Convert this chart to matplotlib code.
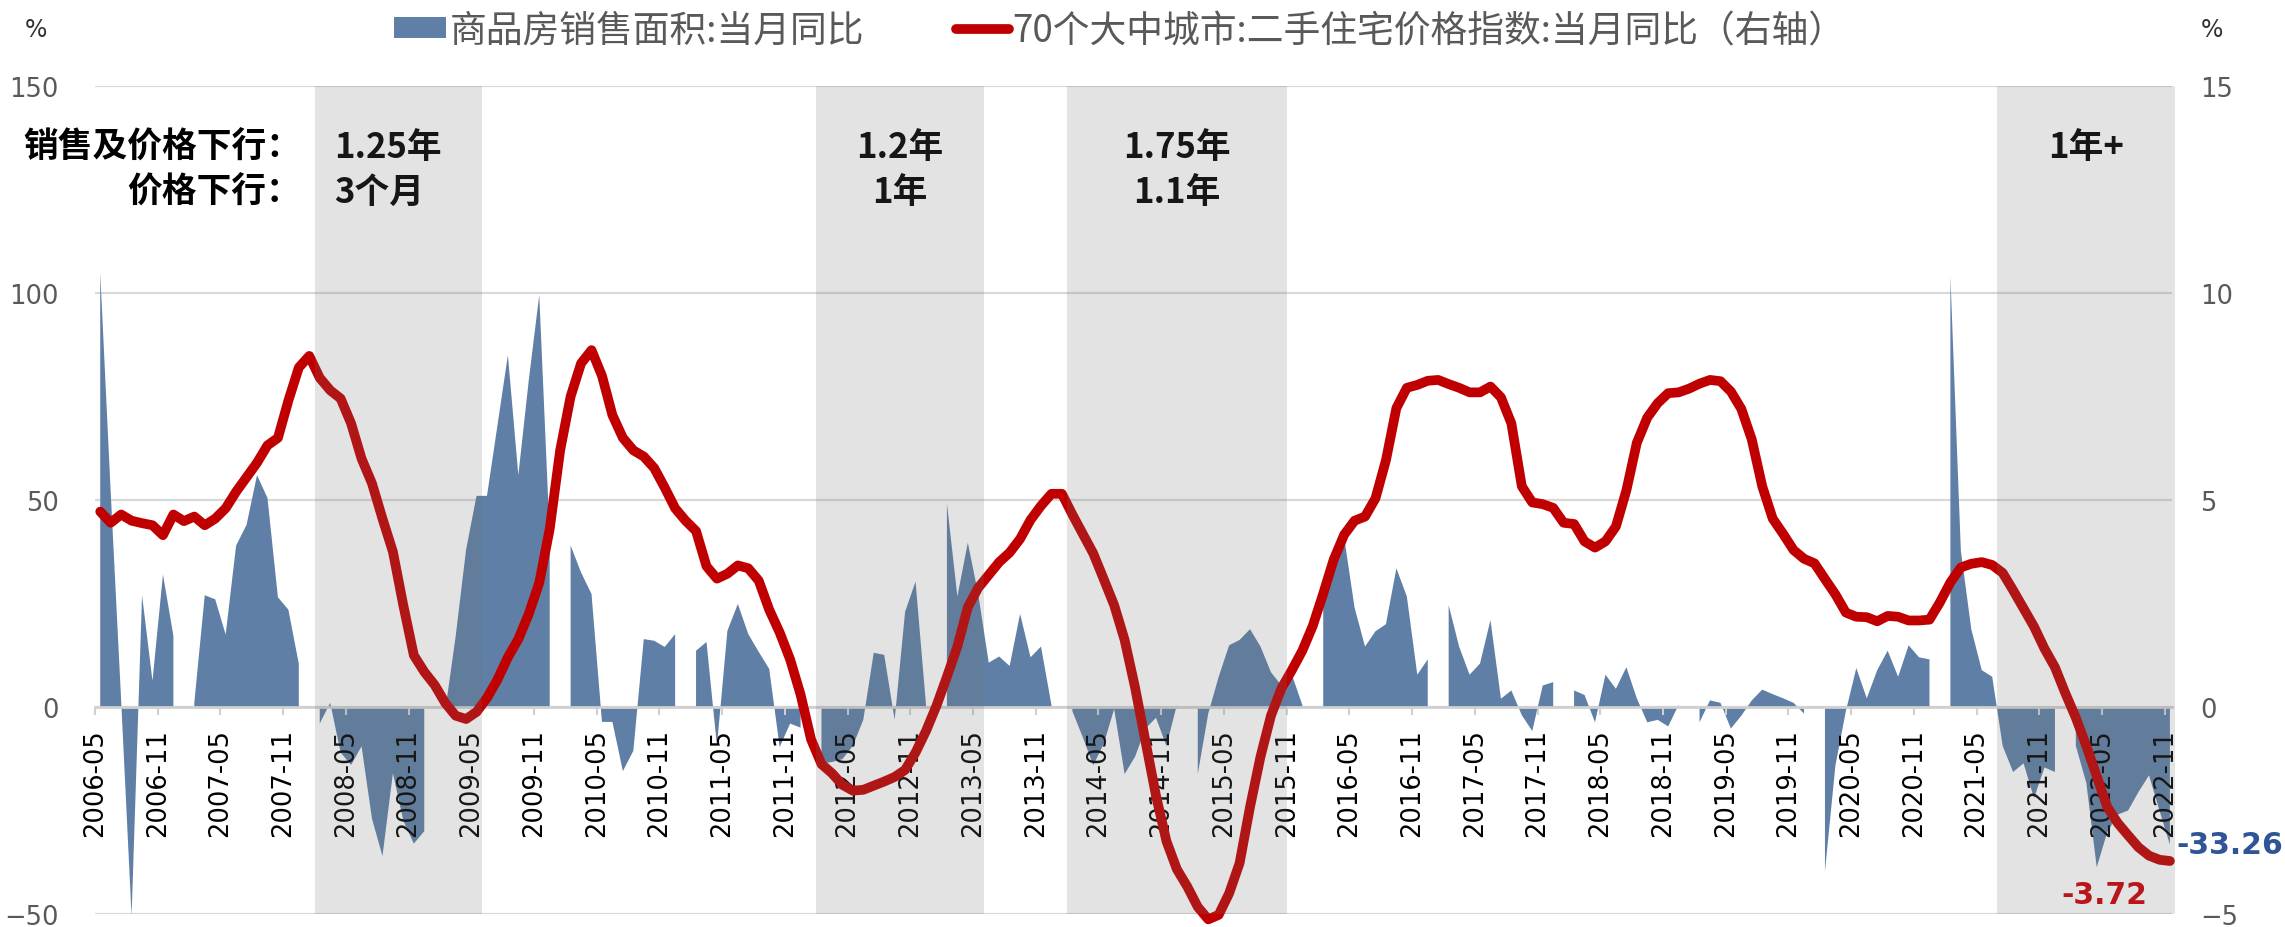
import numpy as np
import pandas as pd
import matplotlib
matplotlib.use("Agg")
import matplotlib.pyplot as plt
from matplotlib.patches import Patch
from matplotlib.lines import Line2D
from matplotlib.font_manager import FontProperties

plt.rcParams['font.family'] = ['DejaVu Sans', 'Noto Sans CJK SC']

# monthly, 2006-05 .. 2022-11 (January values not published -> nan)
months = [p.strftime('%Y-%m') for p in pd.period_range('2006-05', '2022-11', freq='M')]
nan = np.nan

# 商品房销售面积:当月同比 (%)
sales = [105, 52, 1.7, -50.5, 27, 6.3, 32, 17.2, nan, 1,
         27, 26, 17.5, 39, 44, 56, 50.5, 26.5, 23.5, 10.4,
         nan, -4, 1, -11, -14, -9.5, -27, -36, -16, -27.5,
         -33, -30, nan, -1, 17, 38, 51, 51, 68, 85,
         56, 79, 99.5, 41.5, nan, 39, 32.5, 27.3, -3.6, -3.6,
         -15.5, -10.6, 16.4, 16, 14.5, 17.6, nan, 13.6, 15.7, -9.4,
         18.4, 24.9, 17.6, 13.3, 9.2, -9.7, -4, -5, nan, -13.6,
         -13.3, -12.6, -9.4, -3.1, 13.1, 12.6, -3.1, 23, 30.3, 0.5,
         nan, 49.2, 26.7, 39.7, 27.2, 10.7, 12.2, 9.9, 22.5, 12,
         14.6, 0.5, nan, -1, -7.3, -14.1, -8.9, -0.5, -16.2, -12,
         -5.2, -2.6, -9.4, 0.5, nan, -16.2, -1.6, 7.3, 14.9, 16.2,
         18.8, 14.6, 8.4, 5.2, 7.8, 0.5, nan, 24, 33, 41,
         24, 14.6, 18.3, 20, 33.5, 26.7, 7.8, 11.5, nan, 24.6,
         14.6, 7.8, 10.5, 21, 2, 4, -2, -5.8, 5.2, 6,
         nan, 4, 2.9, -3.7, 7.8, 4.4, 9.6, 2.1, -3.7, -3.1,
         -4.7, 0.5, nan, -3.7, 1.6, 1, -5.2, -2.1, 1.6, 4.2,
         3.1, 2.1, 1, -1.6, nan, -39.7, -14.1, -1, 9.4, 2.1,
         8.9, 13.6, 7.3, 14.9, 12, 11.5, nan, 104.1, 37.7, 18.8,
         8.9, 7.3, -9.4, -15.7, -13.6, -22, -14.6, -15.7, nan, -9.4,
         -18.3, -38.7, -30.3, -26, -25, -20.5, -16.5, -25, -33.26]

# 70个大中城市:二手住宅价格指数:当月同比 (%)
price = [4.72, 4.45, 4.65, 4.50, 4.44, 4.39, 4.15, 4.65, 4.49, 4.60,
         4.39, 4.55, 4.80, 5.20, 5.55, 5.90, 6.32, 6.50, 7.40, 8.20,
         8.48, 7.95, 7.65, 7.45, 6.85, 6.00, 5.40, 4.55, 3.75, 2.45,
         1.25, 0.85, 0.53, 0.10, -0.21, -0.29, -0.12, 0.22, 0.66, 1.20,
         1.64, 2.25, 3.00, 4.30, 6.20, 7.50, 8.30, 8.62, 8.00, 7.05,
         6.50, 6.20, 6.05, 5.77, 5.30, 4.80, 4.50, 4.25, 3.40, 3.10,
         3.22, 3.42, 3.35, 3.05, 2.35, 1.80, 1.15, 0.30, -0.78, -1.38,
         -1.60, -1.88, -2.02, -2.00, -1.90, -1.80, -1.69, -1.52, -1.10, -0.58,
         0.03, 0.73, 1.46, 2.41, 2.88, 3.19, 3.50, 3.73, 4.06, 4.52,
         4.86, 5.15, 5.15, 4.65, 4.18, 3.71, 3.09, 2.46, 1.62, 0.47,
         -0.84, -2.14, -3.24, -3.92, -4.34, -4.83, -5.13, -5.02, -4.50, -3.77,
         -2.41, -1.20, -0.21, 0.45, 0.89, 1.36, 1.96, 2.74, 3.56, 4.16,
         4.50, 4.60, 5.04, 5.96, 7.22, 7.71, 7.78, 7.88, 7.90, 7.80,
         7.71, 7.60, 7.60, 7.74, 7.48, 6.85, 5.33, 4.94, 4.90, 4.81,
         4.45, 4.42, 4.00, 3.85, 4.00, 4.36, 5.23, 6.38, 6.99, 7.34,
         7.58, 7.60, 7.69, 7.81, 7.90, 7.87, 7.62, 7.20, 6.46, 5.33,
         4.55, 4.18, 3.79, 3.58, 3.47, 3.09, 2.72, 2.28, 2.18, 2.17,
         2.07, 2.20, 2.18, 2.09, 2.09, 2.11, 2.53, 3.01, 3.37, 3.46,
         3.50, 3.43, 3.24, 2.82, 2.38, 1.94, 1.41, 0.96, 0.33, -0.26,
         -0.94, -1.67, -2.41, -2.80, -3.10, -3.39, -3.59, -3.69, -3.72]

# downturn periods
shade_start = ['2008-02', '2012-02', '2014-02', '2021-07']
shade_end = ['2009-06', '2013-06', '2015-11', '2022-12']
shade_line1 = ['1.25年', '1.2年', '1.75年', '1年+']
shade_line2 = ['3个月', '1年', '1.1年', '']

sales = np.array(sales, dtype=float)
price = np.array(price, dtype=float)
idx = np.arange(len(months))
x = idx + 0.5  # values sit between tick marks


def month_pos(m):
    y, mo = int(m[:4]), int(m[5:])
    return (y - 2006) * 12 + (mo - 5)


blue = '#5F7FA6'
red = '#C00000'
grey_txt = '#595959'
cjk = ['Noto Sans CJK SC', 'DejaVu Sans']

fig = plt.figure(figsize=(22.85, 9.28), dpi=100)
ax = fig.add_axes([95 / 2285, 13 / 928, 2077 / 2285, 828 / 928])

ax.fill_between(x, sales, 0, color=blue, lw=0, zorder=2)
ax.set_xlim(0, 198.7)
ax.set_ylim(-50, 150)
ax.set_yticks([-50, 0, 50, 100, 150])
ax.set_xticks(idx[::6])
ax.set_xticklabels(months[::6])
ax.grid(axis='y', color='#D9D9D9', lw=1.6)
ax.set_axisbelow(True)
ax.xaxis.set_zorder(4)  # date labels over the area
for s in ['top', 'right', 'left']:
    ax.spines[s].set_visible(False)
ax.spines['bottom'].set_position(('data', 0))
ax.spines['bottom'].set_color('#D0D0D0')
ax.spines['bottom'].set_linewidth(2)
ax.tick_params(axis='x', length=6, width=1.5, color='#D0D0D0', pad=9,
               labelsize=18.5, labelrotation=90, labelcolor='black')
ax.tick_params(axis='y', length=0, pad=26, labelsize=18.5, labelcolor=grey_txt)

ax2 = ax.twinx()
ax2.plot(x, price, color=red, lw=7, solid_joinstyle='round',
         solid_capstyle='round', clip_on=False, zorder=3)
ax2.set_ylim(-5, 15)
ax2.set_yticks([-5, 0, 5, 10, 15])
for s in ax2.spines.values():
    s.set_visible(False)
ax2.tick_params(axis='y', length=0, pad=20, labelsize=18.5, labelcolor=grey_txt)

for s0, s1 in zip(shade_start, shade_end):
    ax2.axvspan(month_pos(s0), month_pos(s1), color='#737373', alpha=0.2,
                lw=0, zorder=5, clip_on=False)

# period annotations
bold = dict(fontsize=25, fontweight='bold', color='black', family=cjk, zorder=6)
for k, (s0, s1) in enumerate(zip(shade_start, shade_end)):
    a, b = month_pos(s0), month_pos(s1)
    if k == 0:
        ax.text(a + 1.9, 135.5, shade_line1[k], ha='left', va='center', **bold)
        ax.text(a + 1.9, 124.6, shade_line2[k], ha='left', va='center', **bold)
    else:
        c = (a + b) / 2
        ax.text(c, 135.5, shade_line1[k], ha='center', va='center', **bold)
        ax.text(c, 124.6, shade_line2[k], ha='center', va='center', **bold)
ax.text(month_pos(shade_start[0]) - 1.3, 135.5, '销售及价格下行：', ha='right', va='center', **bold)
ax.text(month_pos(shade_start[0]) - 1.3, 124.6, '价格下行：', ha='right', va='center', **bold)

# last values
ax2.annotate(f'{sales[-1]:.2f}', xy=(x[-1], sales[-1] / 10), xytext=(5, 0),
             textcoords='offset points', ha='left', va='center', fontsize=21.5,
             fontweight='bold', color='#2F5597', annotation_clip=False, zorder=7)
ax2.annotate(f'{price[-1]:.2f}', xy=(x[-1], price[-1]), xytext=(-47, -24),
             textcoords='offset points', ha='center', va='center', fontsize=21.5,
             fontweight='bold', color='#B8161B', annotation_clip=False, zorder=7)

# units
fig.text(36 / 2285, 1 - 30 / 928, '%', ha='center', va='center', fontsize=17, color='#333333')
fig.text(2212 / 2285, 1 - 30 / 928, '%', ha='center', va='center', fontsize=17, color='#333333')

handles = [Patch(facecolor=blue, edgecolor='none'),
           Line2D([], [], color=red, lw=7, solid_capstyle='round')]
labels = ['商品房销售面积:当月同比', '70个大中城市:二手住宅价格指数:当月同比（右轴）']
fig.legend(handles, labels, loc='center', bbox_to_anchor=(0.49, 0.966), ncol=2,
           frameon=False, prop=FontProperties(family=cjk, size=26.5),
           labelcolor=grey_txt, handlelength=1.42, handleheight=0.5,
           handletextpad=0.1, columnspacing=2.5, borderaxespad=0, borderpad=0)

fig.savefig('out.png', dpi=100)
